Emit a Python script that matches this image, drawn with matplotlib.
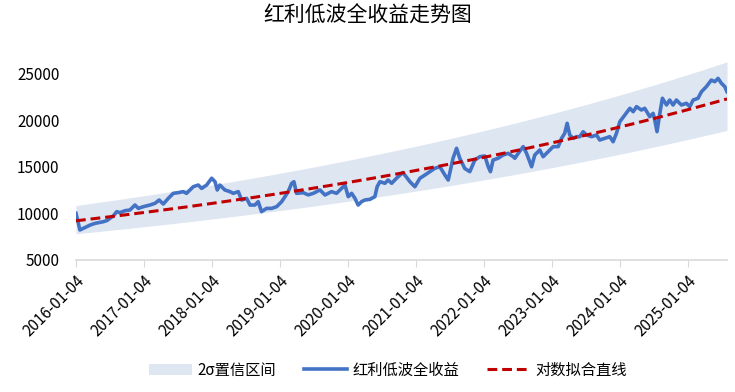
import numpy as np
import pandas as pd
import matplotlib as mpl
mpl.use('Agg')
import matplotlib.pyplot as plt

mpl.rc('font', size=11)
plt.rcParams['font.family'] = ['Noto Sans CJK SC', 'DejaVu Sans']
mpl.rc('axes.spines', top=False, right=False, left=False)

# values
dates = [
    "2016-01-04", "2016-01-25", "2016-02-12", "2016-03-01", "2016-03-19", "2016-04-15",
    "2016-05-12", "2016-05-30", "2016-06-17", "2016-07-05", "2016-07-22", "2016-08-10",
    "2016-08-27", "2016-09-23", "2016-10-20", "2016-11-16", "2016-12-04", "2016-12-30",
    "2017-02-04", "2017-03-03", "2017-03-26", "2017-04-17", "2017-05-14", "2017-06-10",
    "2017-07-06", "2017-08-02", "2017-08-20", "2017-09-25", "2017-10-22", "2017-11-09",
    "2017-12-06", "2018-01-02", "2018-01-20", "2018-02-01", "2018-02-15", "2018-03-14",
    "2018-04-10", "2018-04-28", "2018-05-25", "2018-06-12", "2018-07-09", "2018-07-27",
    "2018-08-22", "2018-09-09", "2018-09-27", "2018-10-24", "2018-11-20", "2018-12-17",
    "2019-01-13", "2019-01-31", "2019-02-17", "2019-03-08", "2019-03-20", "2019-04-03",
    "2019-05-09", "2019-06-05", "2019-07-02", "2019-08-07", "2019-09-03", "2019-10-08",
    "2019-11-04", "2019-12-01", "2019-12-19", "2020-01-06", "2020-01-24", "2020-02-11",
    "2020-02-28", "2020-03-17", "2020-04-04", "2020-05-01", "2020-05-28", "2020-06-09",
    "2020-06-24", "2020-07-21", "2020-08-07", "2020-08-26", "2020-09-21", "2020-10-25",
    "2020-11-14", "2020-12-02", "2020-12-29", "2021-01-25", "2021-02-21", "2021-03-19",
    "2021-04-15", "2021-05-12", "2021-06-08", "2021-06-26", "2021-07-22", "2021-08-10",
    "2021-08-27", "2021-09-23", "2021-10-20", "2021-11-16", "2021-12-13", "2022-01-09",
    "2022-01-27", "2022-02-08", "2022-02-22", "2022-03-21", "2022-04-17", "2022-05-14",
    "2022-06-10", "2022-06-19", "2022-07-07", "2022-08-03", "2022-08-21", "2022-09-17",
    "2022-10-04", "2022-10-31", "2022-11-18", "2022-12-15", "2023-01-11", "2023-02-07",
    "2023-02-25", "2023-03-14", "2023-03-27", "2023-04-10", "2023-04-28", "2023-05-16",
    "2023-06-03", "2023-06-21", "2023-07-09", "2023-08-05", "2023-09-01", "2023-09-18",
    "2023-10-15", "2023-11-11", "2023-11-29", "2023-12-17", "2024-01-04", "2024-01-31",
    "2024-02-27", "2024-03-16", "2024-04-03", "2024-04-29", "2024-05-17", "2024-06-13",
    "2024-07-01", "2024-07-10", "2024-07-22", "2024-08-06", "2024-08-20", "2024-09-11",
    "2024-09-28", "2024-10-16", "2024-11-03", "2024-11-30", "2024-12-27", "2025-01-14",
    "2025-02-01", "2025-02-27", "2025-03-18", "2025-04-13", "2025-05-10", "2025-05-28",
    "2025-06-15", "2025-07-03", "2025-07-21", "2025-08-02",
]
values = [
    10020, 8230, 8400, 8580, 8750, 8940,
    9050, 9120, 9230, 9480, 9730, 10200,
    10090, 10300, 10380, 10910, 10550, 10730,
    10910, 11090, 11450, 11020, 11630, 12170,
    12240, 12350, 12170, 12880, 13060, 12700,
    13060, 13790, 13420, 12530, 13060, 12530,
    12350, 12170, 12350, 11450, 11630, 10910,
    10910, 11270, 10200, 10550, 10550, 10730,
    11270, 11810, 12350, 13250, 13420, 12170,
    12240, 12000, 12170, 12530, 11990, 12350,
    12170, 12700, 13060, 11810, 12170, 11630,
    10910, 11270, 11450, 11520, 11810, 12880,
    13420, 13250, 13600, 13250, 13790, 14400,
    13900, 13420, 12880, 13790, 14140, 14500,
    14860, 15030, 14140, 13600, 15940, 17010,
    15940, 14840, 14500, 15750, 16110, 16180,
    15030, 14500, 15750, 15940, 16290, 16470,
    16110, 15940, 16470, 17190, 16470, 15030,
    16290, 16830, 16110, 16650, 17190, 17190,
    18080, 18620, 19700, 18440, 18080, 18260,
    18260, 18790, 18440, 18260, 18440, 17900,
    18080, 18260, 17720, 18620, 19870, 20590,
    21310, 20950, 21490, 21130, 21310, 20410,
    20770, 20050, 18800, 20770, 22390, 21670,
    22200, 21670, 22200, 21670, 21850, 21490,
    22200, 22390, 23100, 23640, 24350, 24170,
    24530, 24000, 23640, 23100,
]
tick_labels = ["2016-01-04", "2017-01-04", "2018-01-04", "2019-01-04", "2020-01-04",
               "2021-01-04", "2022-01-04", "2023-01-04", "2024-01-04", "2025-01-04"]
title = "红利低波全收益走势图"
names = ["2σ置信区间", "红利低波全收益", "对数拟合直线"]


def run(fig):
    d = pd.to_datetime(dates)
    v = np.array(values, dtype=float)

    # log-linear fit and 2 sigma band
    t = (d - d[0]).days.values / 365.25
    k, b = np.polyfit(t, np.log(v), 1)
    fit = np.exp(k * t + b)
    sigma = np.std(np.log(v) - (k * t + b))

    ax = fig.add_axes((76 / 735, 1 - 260 / 392, 651 / 735, 204.6 / 392))
    band = ax.fill_between(d, fit * np.exp(-2 * sigma), fit * np.exp(2 * sigma),
                           color='#DEE6F2', lw=0, zorder=1)
    line, = ax.plot(d, v, color='#4472C4', lw=2.6, zorder=2)
    trend, = ax.plot(d, fit, color='#C00000', lw=2.2, ls=(0, (3.2, 1.6)), zorder=3)

    ax.set_xlim(d[0], d[-1])
    ax.set_ylim(5000, 27000)
    ax.set_yticks([5000, 10000, 15000, 20000, 25000])
    ax.tick_params(axis='y', length=0, pad=12, labelsize=11)
    ax.set_xticks(pd.to_datetime(tick_labels))
    ax.set_xticklabels(tick_labels, rotation=45, ha='right', rotation_mode='anchor')
    ax.tick_params(axis='x', length=5, color='#D9D9D9', pad=4, labelsize=11)
    ax.spines['bottom'].set_color('#D9D9D9')
    ax.spines['bottom'].set_linewidth(1.2)

    fig.text(0.5, 1 - 16 / 392, title, ha='center', va='center', fontsize=15)
    fig.legend([band, line, trend], names, loc='center', ncol=3, frameon=False,
               bbox_to_anchor=(388 / 735, 1 - 370 / 392), handlelength=2.8,
               columnspacing=1.8, handletextpad=0.4, fontsize=11)


if __name__ == '__main__':
    fig = plt.figure(figsize=(7.35, 3.92), dpi=100)
    run(fig)
    fig.savefig('out.png', dpi=100)
